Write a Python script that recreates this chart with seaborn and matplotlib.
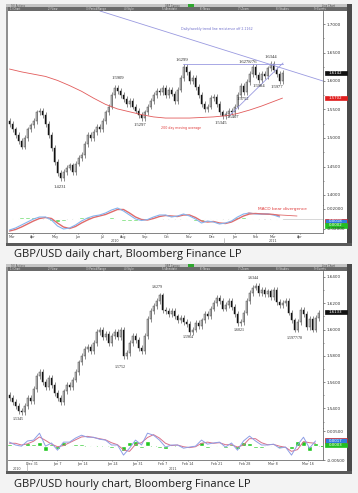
import numpy as np
import pandas as pd
import matplotlib
matplotlib.use("Agg")
import matplotlib.pyplot as plt
from matplotlib.patches import Rectangle
import seaborn as sns

# ---------------- DATA ----------------
# Daily GBP/USD (Mar 2010 - Mar 2011), one candle per ~3 sessions, closes
daily_close = [1.525, 1.515, 1.505, 1.495, 1.485, 1.500, 1.515, 1.522, 1.530, 1.545,
               1.548, 1.540, 1.525, 1.505, 1.482, 1.458, 1.438, 1.430, 1.440, 1.448,
               1.452, 1.440, 1.455, 1.465, 1.470, 1.490, 1.505, 1.500, 1.510, 1.520,
               1.515, 1.530, 1.545, 1.555, 1.575, 1.588, 1.583, 1.575, 1.568, 1.560,
               1.565, 1.555, 1.548, 1.540, 1.535, 1.545, 1.555, 1.565, 1.575, 1.582,
               1.580, 1.588, 1.575, 1.585, 1.578, 1.565, 1.585, 1.605, 1.624, 1.615,
               1.600, 1.605, 1.590, 1.575, 1.560, 1.550, 1.555, 1.570, 1.572, 1.560,
               1.545, 1.538, 1.542, 1.548, 1.545, 1.555, 1.575, 1.592, 1.580, 1.598,
               1.612, 1.624, 1.610, 1.602, 1.612, 1.608, 1.622, 1.630, 1.620, 1.612,
               1.600, 1.614]
daily_first_open = 1.530
daily_last = 1.6142
# 200-day moving average, sampled every 4th candle plus the last one
daily_ma_idx = [0, 4, 8, 12, 16, 20, 24, 28, 32, 36, 40, 44, 48, 52, 56, 60, 64, 68,
                72, 76, 80, 84, 88, 91]
daily_ma200 = [1.621, 1.616, 1.612, 1.608, 1.601, 1.592, 1.582, 1.570, 1.559, 1.551,
               1.546, 1.541, 1.537, 1.535, 1.535, 1.535, 1.536, 1.537, 1.539, 1.543,
               1.549, 1.556, 1.564, 1.570]
ma_last = 1.5702
# MACD, every 2nd candle
daily_macd = [-0.022, -0.018, -0.012, -0.006, 0.000, 0.004, 0.004, -0.002, -0.014, -0.020,
              -0.018, -0.012, -0.004, 0.002, 0.006, 0.008, 0.012, 0.018, 0.022, 0.016,
              0.008, 0.000, -0.003, -0.001, 0.004, 0.008, 0.008, 0.004, 0.006, 0.010,
              0.006, 0.000, -0.008, -0.004, -0.006, -0.010, -0.008, -0.004, 0.004, 0.010,
              0.012, 0.010, 0.010, 0.010, 0.008, 0.004]
daily_signal = [-0.024, -0.021, -0.016, -0.010, -0.004, 0.001, 0.003, 0.001, -0.008, -0.016,
                -0.019, -0.015, -0.008, -0.002, 0.003, 0.006, 0.009, 0.014, 0.019, 0.019,
                0.012, 0.004, -0.001, -0.002, 0.001, 0.005, 0.007, 0.006, 0.005, 0.008,
                0.008, 0.003, -0.004, -0.006, -0.005, -0.008, -0.009, -0.006, 0.000, 0.006,
                0.010, 0.011, 0.010, 0.010, 0.009, 0.006]
daily_months = ["Mar", "Apr", "May", "Jun", "Jul", "Aug", "Sep", "Oct", "Nov", "Dec",
                "Jan", "Feb", "Mar", "Apr"]
daily_price_ticks = [1.40, 1.45, 1.50, 1.55, 1.60, 1.65, 1.70]
daily_macd_ticks = [-0.02, 0.02]
daily_labels = ["1.5909", "1.5297", "1.6299", "1.6278/76", "1.6344", "1.5984",
                "1.5977", "1.5752", "1.5407", "1.5345", "1.4231"]

# Hourly GBP/USD (late Dec 2010 - mid Mar 2011)
hourly_close = [1.548, 1.545, 1.542, 1.538, 1.537, 1.542, 1.548, 1.546, 1.555, 1.565,
                1.568, 1.560, 1.556, 1.563, 1.558, 1.552, 1.548, 1.545, 1.553, 1.558,
                1.556, 1.562, 1.568, 1.575, 1.580, 1.585, 1.587, 1.584, 1.590, 1.598,
                1.600, 1.594, 1.597, 1.590, 1.595, 1.598, 1.594, 1.600, 1.580, 1.582,
                1.590, 1.595, 1.592, 1.586, 1.584, 1.595, 1.608, 1.614, 1.618, 1.622,
                1.626, 1.615, 1.614, 1.612, 1.614, 1.610, 1.607, 1.609, 1.606, 1.604,
                1.598, 1.600, 1.605, 1.603, 1.607, 1.612, 1.610, 1.616, 1.620, 1.624,
                1.622, 1.616, 1.619, 1.622, 1.617, 1.612, 1.605, 1.606, 1.613, 1.622,
                1.628, 1.632, 1.633, 1.628, 1.630, 1.627, 1.629, 1.625, 1.630, 1.621,
                1.619, 1.620, 1.622, 1.613, 1.607, 1.600, 1.606, 1.615, 1.612, 1.602,
                1.608, 1.600, 1.609, 1.613]
hourly_first_open = 1.550
hourly_last = 1.6133
hourly_osc = [0.0012, 0.0002, -0.0002, 0.0016, 0.0019, 0.0043, -0.0002, 0.0009, -0.0016, 0.0012,
              0.0012, 0.0026, 0.0036, 0.0029, 0.0029, 0.0022, 0.0019, 0.0002, 0.0002, -0.0033,
              -0.0009, 0.0019, 0.0002, 0.0043, 0.0036, 0.0019, -0.0005, 0.0002, 0.0002, -0.0009,
              -0.0005, -0.0002, 0.0019, 0.0005, 0.0009, 0.0012, -0.0005, 0.0009, -0.0016, 0.0016,
              0.0033, 0.0016, 0.0002, 0.0002, 0.0005, -0.0009, -0.0005, -0.0033, 0.0002, 0.0029,
              -0.0009, 0.0016]
hourly_sig = [0.0008, 0.0008, 0.0002, 0.0006, 0.0015, 0.0030, 0.0018, 0.0005, -0.0004, 0.0000,
              0.0010, 0.0020, 0.0030, 0.0032, 0.0028, 0.0024, 0.0020, 0.0010, 0.0003, -0.0015,
              -0.0020, 0.0004, 0.0010, 0.0028, 0.0038, 0.0026, 0.0008, 0.0000, 0.0002, -0.0004,
              -0.0007, -0.0004, 0.0008, 0.0012, 0.0008, 0.0010, 0.0003, 0.0003, -0.0005, 0.0002,
              0.0024, 0.0024, 0.0010, 0.0003, 0.0004, -0.0002, -0.0006, -0.0020, -0.0014, 0.0014,
              0.0010, 0.0008]
hourly_dates = ["Dec 31", "Jan 7", "Jan 14", "Jan 24", "Jan 31", "Feb 7", "Feb 14",
                "Feb 21", "Feb 28", "Mar 8", "Mar 16"]
hourly_price_ticks = [1.54, 1.56, 1.58, 1.60, 1.62, 1.64]
hourly_osc_ticks = [-0.005, 0.005]
hourly_labels = ["1.5345", "1.5752", "1.6279", "1.5964", "1.6021", "1.6344", "1.5977/78"]

captions = ["GBP/USD daily chart, Bloomberg Finance LP",
            "GBP/USD hourly chart, Bloomberg Finance LP"]
menu_items = ["Chart", "View", "Period/Range", "Style", "Annotate", "News", "Zoom",
              "Studies", "Events"]

# ---------------- LAYOUT ----------------
sns.set_style("white")
plt.rcParams['font.family'] = ['DejaVu Sans']

W, H = 358, 493
fig = plt.figure(figsize=(W / 100, H / 100), dpi=100, facecolor='#f3f3f3')


def rect(x0, y0, x1, y1):
    return [x0 / W, 1 - y1 / H, (x1 - x0) / W, (y1 - y0) / H]


def px2i(px):
    return (px - 8) / 3 - 0.5


bg = fig.add_axes([0, 0, 1, 1], zorder=0)
bg.set_xlim(0, W)
bg.set_ylim(H, 0)
bg.axis('off')


def draw_frame(y0, y1):
    bg.add_patch(Rectangle((6, y0), 346, y1 - y0, fc='#8f8f8f', ec='none'))
    bg.add_patch(Rectangle((8, y0 + 7), 340, y1 - y0 - 10, fc='white', ec='none'))
    bg.add_patch(Rectangle((6, y0), 346, 3, fc='#c4c4c4', ec='none'))
    bg.add_patch(Rectangle((8, y0 + 3), 340, 4, fc='#6a6a6a', ec='none'))
    bg.add_patch(Rectangle((347, y0), 5, y1 - y0, fc='#4a4a4a', ec='none'))
    bg.add_patch(Rectangle((6, y1 - 3), 346, 3, fc='#5a5a5a', ec='none'))
    bg.add_patch(Rectangle((188, y0), 6, 3, fc='#2fa82f', ec='none'))
    bg.text(11, y0 + 1.6, "96) Actions", fontsize=1.8, color='#555', va='center')
    bg.text(165, y0 + 1.6, "GBP Curncy", fontsize=1.8, color='#444', va='center')
    bg.text(322, y0 + 1.6, "Line Chart", fontsize=1.8, color='#444', va='center')
    for k, m in enumerate(menu_items):
        bg.text(10 + k * 38, y0 + 5, f"{k + 1}) {m}", fontsize=1.8, color='#e6e6e6',
                va='center')


draw_frame(4, 246)
draw_frame(264, 474)

for cap, cy in zip(captions, [254, 484]):
    bg.text(14, cy, cap, fontsize=8.0, family='Open Sans', color='#1a1a1a', va='center')


def candles(ax, closes, first_open, wick, width=0.5):
    c = np.asarray(closes)
    o = np.r_[first_open, c[:-1]]
    hi = np.maximum(o, c) + wick
    lo = np.minimum(o, c) - wick
    x = np.arange(len(c))
    ax.vlines(x, lo, hi, color='#7a7a7a', lw=0.6, zorder=2)
    up = c >= o
    ax.bar(x[up], (c - o)[up], bottom=o[up], width=width, color='white',
           edgecolor='#222', lw=0.3, zorder=3)
    ax.bar(x[~up], (o - c)[~up], bottom=c[~up], width=width, color='#111',
           edgecolor='#111', lw=0.3, zorder=3)


def style_ax(ax, ylim, ticks, fmt, minor=None):
    ax.set_facecolor('white')
    ax.set_ylim(*ylim)
    ax.set_xlim(-0.5, 104.5)
    for s in ['left', 'top']:
        ax.spines[s].set_visible(False)
    for s in ['right', 'bottom']:
        ax.spines[s].set_visible(True)
        ax.spines[s].set_color('#6f6f6f')
        ax.spines[s].set_linewidth(0.6)
    ax.yaxis.tick_right()
    ax.set_yticks(ticks)
    ax.set_yticklabels([fmt.format(t) for t in ticks])
    if minor is not None:
        ax.set_yticks(minor, minor=True)
    ax.tick_params(axis='y', which='both', direction='out', length=1.5, width=0.4,
                   labelsize=3.0, pad=1.2, colors='#333', right=True)
    ax.tick_params(axis='y', which='minor', length=1.0)
    ax.set_xticks([])
    ax.set_xlabel('')
    ax.set_ylabel('')


def value_box(ax, value, text, fc, tc='white', ec=None):
    py = H - ax.transData.transform((0, value))[1]
    bg.add_patch(Rectangle((324.5, py - 2.2), 22.5, 4.4, fc=fc, ec=ec or fc, lw=0.5,
                           zorder=5))
    bg.text(335.5, py, text, fontsize=2.8, color=tc, ha='center', va='center', zorder=6)


def place_label(ax, text, px, pydata, size, color='#222', family='Liberation Serif'):
    ax.text(px2i(px), pydata, text, fontsize=size, color=color, ha='center',
            va='center', family=family, zorder=6, clip_on=False)


# ---------------- DAILY CHART ----------------
def d_py(py):
    return 1.70 - (py - 24) * 0.05 / 28.5


ax1 = fig.add_axes(rect(8, 11, 323, 205), zorder=2)
candles(ax1, daily_close, daily_first_open, 0.005)
dma = pd.DataFrame({'i': daily_ma_idx, 'ma': daily_ma200})
sns.lineplot(data=dma, x='i', y='ma', ax=ax1, color='#e25b5b', lw=0.6, zorder=4)
ax1.plot([px2i(100), px2i(323)], [d_py(11), d_py(81)], color='#9a9ae0', lw=0.6, zorder=4)
ax1.plot([px2i(183), px2i(283)], [d_py(64), d_py(64)], color='#9a9ae0', lw=0.6, zorder=4)
ax1.plot([px2i(230), px2i(283)], [d_py(115), d_py(63)], color='#9a9ae0', lw=0.6, zorder=4)
style_ax(ax1, (d_py(205), d_py(11)), daily_price_ticks, "{:.4f}",
         minor=[1.425, 1.475, 1.525, 1.575, 1.625, 1.675])
label_pos_d = [(118, 78), (140, 125), (182, 60), (248, 62), (271, 57), (259, 86),
               (277, 87), (243, 99), (233, 117), (221, 123), (60, 187)]
for t, (px, py) in zip(daily_labels, label_pos_d):
    place_label(ax1, t, px, d_py(py), 3.3)
place_label(ax1, "Daily/weekly trend line resistance off 2.1162", 217, d_py(29), 2.3,
            color='#7070cc', family='DejaVu Sans')
place_label(ax1, "200 day moving average", 181, d_py(128), 2.3, color='#e03c3c',
            family='DejaVu Sans')
value_box(ax1, daily_last, f"{daily_last:.4f}", '#111111')
value_box(ax1, ma_last, f"{ma_last:.4f}", '#e01e1e')

ax1m = fig.add_axes(rect(8, 205, 323, 233), zorder=2)
dmacd = pd.DataFrame({'i': list(range(0, 2 * len(daily_macd), 2)), 'macd': daily_macd,
                      'signal': daily_signal})
ax1m.axhline(0, color='#c8c8c8', lw=0.5, zorder=1)
ax1m.bar(dmacd['i'], dmacd['macd'] - dmacd['signal'], width=1.8, color='#56d856',
         zorder=2)
sns.lineplot(data=dmacd, x='i', y='signal', ax=ax1m, color='#e06a6a', lw=1.0, zorder=3)
sns.lineplot(data=dmacd, x='i', y='macd', ax=ax1m, color='#86b4ee', lw=0.8, zorder=4)
ax1m.plot([px2i(248), px2i(297)], [0.012, 0.006], color='#e06a6a', lw=0.6, zorder=4)
style_ax(ax1m, (-0.028, 0.028), daily_macd_ticks, "{:.5f}")
ax1m.text(px2i(282), 0.020, "MACD bear divergence", fontsize=3.1, color='#e03c3c',
          ha='center', va='center')
value_box(ax1m, -0.004, "0.0018", '#2f7de0', ec='#d02020')
value_box(ax1m, -0.0128, "0.0002", '#22c022')
month_px = [12, 33, 55, 78, 102, 123, 145, 167, 189, 212, 235, 256, 273, 300]
ax1m.set_xticks([px2i(p) for p in month_px])
ax1m.set_xticklabels(daily_months)
ax1m.tick_params(axis='x', direction='out', length=0.8, width=0.4, labelsize=2.4,
                 pad=0.3, colors='#444', bottom=True)
bg.text(115, 240.6, "2010", fontsize=2.4, color='#444', ha='center', va='center')
bg.text(273, 240.6, "2011", fontsize=2.4, color='#444', ha='center', va='center')
bg.plot([224, 224], [237.5, 243], color='#999', lw=0.4)

# ---------------- HOURLY CHART ----------------
def h_py(py):
    return 1.64 - (py - 277) * 0.02 / 26.3


ax2 = fig.add_axes(rect(8, 271, 323, 428), zorder=2)
candles(ax2, hourly_close, hourly_first_open, 0.0022)
style_ax(ax2, (h_py(428), h_py(271)), hourly_price_ticks, "{:.4f}",
         minor=[1.53, 1.55, 1.57, 1.59, 1.61, 1.63])
label_pos_h = [(18, 419), (120, 367), (157, 287), (188, 337), (239, 330), (253, 278),
               (295, 338)]
for t, (px, py) in zip(hourly_labels, label_pos_h):
    place_label(ax2, t, px, h_py(py), 2.9)
value_box(ax2, hourly_last, f"{hourly_last:.4f}", '#111111')

ax2m = fig.add_axes(rect(8, 428, 323, 460), zorder=2)
hosc = pd.DataFrame({'i': list(range(0, 2 * len(hourly_osc), 2)), 'osc': hourly_osc,
                     'sig': hourly_sig})
ax2m.axhline(-0.0003, color='#2ec82e', lw=0.6, ls=(0, (3, 2)), zorder=1)
ax2m.bar(hosc['i'], hosc['osc'] - hosc['sig'], width=1.4, color='#22c822', zorder=2)
sns.lineplot(data=hosc, x='i', y='sig', ax=ax2m, color='#d9708a', lw=0.7, zorder=3)
sns.lineplot(data=hosc, x='i', y='osc', ax=ax2m, color='#8e9ee6', lw=0.7, zorder=4)
style_ax(ax2m, (-0.005, 0.0061), hourly_osc_ticks, "{:.5f}")
value_box(ax2m, 0.0017, "0.0017", '#2f7de0', ec='#d02020')
value_box(ax2m, 0.0002, "0.0003", '#22c022')
date_px = [32, 57, 82, 112, 137, 163, 188, 217, 245, 273, 308]
ax2m.set_xticks([px2i(p) for p in date_px])
ax2m.set_xticklabels(hourly_dates)
ax2m.tick_params(axis='x', direction='out', length=0.8, width=0.4, labelsize=2.4,
                 pad=0.3, colors='#444', bottom=True)
bg.text(17, 468.6, "2010", fontsize=2.4, color='#444', ha='center', va='center')
bg.text(173, 468.6, "2011", fontsize=2.4, color='#444', ha='center', va='center')
bg.plot([27, 27], [462, 471], color='#999', lw=0.4)

fig.savefig("out.png", dpi=100, facecolor=fig.get_facecolor())
